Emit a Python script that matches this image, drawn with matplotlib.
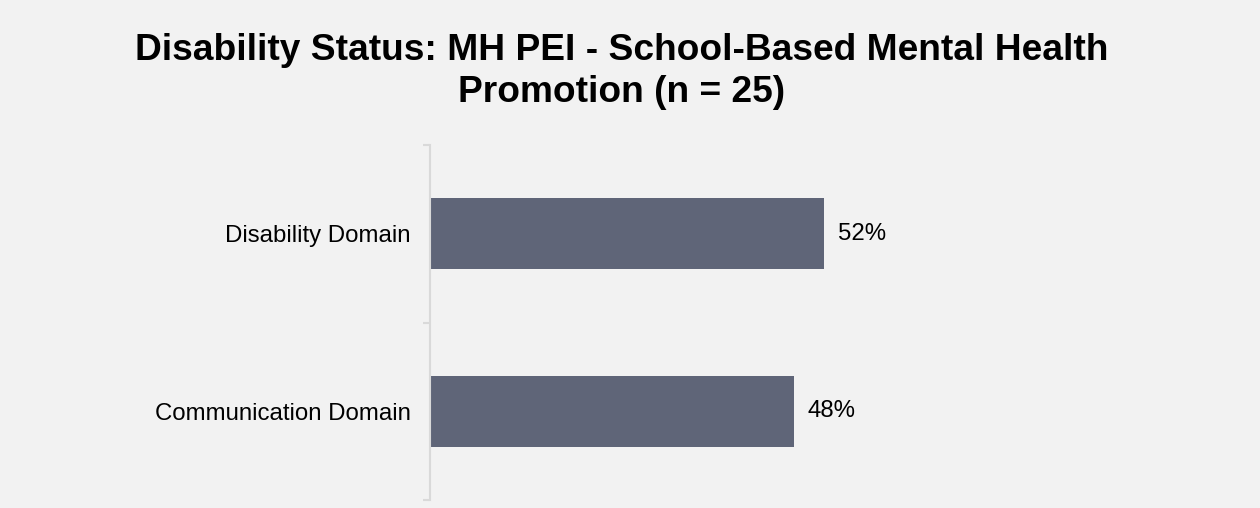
import numpy as np
import matplotlib.pyplot as plt
from matplotlib.ticker import FixedLocator, NullFormatter

plt.rcParams['font.family'] = ['Liberation Sans', 'DejaVu Sans']

# data
categories = ['Disability Domain', 'Communication Domain']
values = [52, 48]
title = 'Disability Status: MH PEI - School-Based Mental Health\nPromotion (n = 25)'

bg = '#f2f2f2'
bar_color = '#5f6578'
axis_color = '#d9d9d9'

fig = plt.figure(figsize=(12.6, 5.08), dpi=100, facecolor=bg)
ax = fig.add_axes([430 / 1260, 1 - 500 / 508, (1188 - 430) / 1260, 355 / 508])
ax.set_facecolor(bg)

y = np.arange(len(categories))
bars = ax.barh(y, values, height=0.4, color=bar_color)

ax.set_xlim(0, 100)
ax.set_ylim(len(categories) - 0.5, -0.5)

# value labels at the bar ends
for b, v in zip(bars, values):
    ax.annotate(f'{v}%', (b.get_width(), b.get_y() + b.get_height() / 2),
                xytext=(10, 0), textcoords='offset points',
                va='center', ha='left', fontsize=17.3, color='black')

# spines: only the left one, light gray
for s in ['top', 'right', 'bottom']:
    ax.spines[s].set_visible(False)
ax.spines['left'].set_color(axis_color)
ax.spines['left'].set_linewidth(1.5)
ax.xaxis.set_visible(False)

# ticks on category boundaries, labels at category centres
ax.yaxis.set_major_locator(FixedLocator(np.arange(len(categories) + 1) - 0.5))
ax.yaxis.set_major_formatter(NullFormatter())
ax.yaxis.set_minor_locator(FixedLocator(y))
ax.set_yticklabels(categories, minor=True)
ax.tick_params(axis='y', which='major', length=5, color=axis_color, width=1.5)
ax.tick_params(axis='y', which='minor', length=0, pad=14, labelsize=17.3)

fig.suptitle(title, x=622 / 1260, y=1 - 33 / 508, va='top', fontsize=26.7,
             fontweight='bold', linespacing=1.27)

fig.savefig('out.png', dpi=100, facecolor=bg)
